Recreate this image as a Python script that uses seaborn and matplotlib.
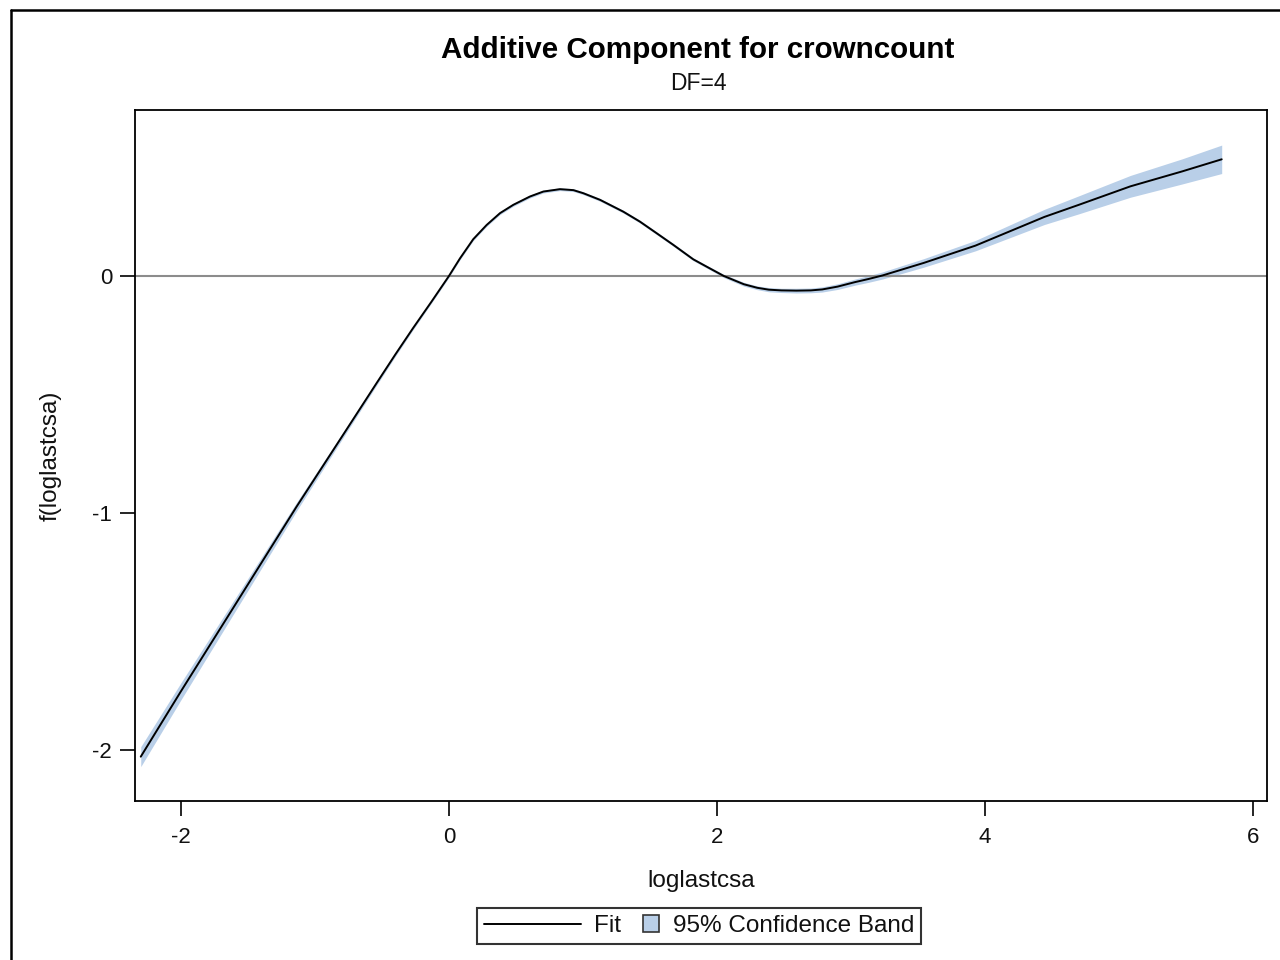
import numpy as np
import pandas as pd
import matplotlib
matplotlib.use("Agg")
import matplotlib.pyplot as plt
from matplotlib.lines import Line2D
from matplotlib.patches import Rectangle
from matplotlib.legend_handler import HandlerBase
import seaborn as sns

# ---- data ----
loglastcsa = [-2.30, -2.00, -1.634, -1.137, -0.80, -0.54, -0.40, -0.268, -0.13, 0.0,
              0.032, 0.082, 0.181, 0.281, 0.381, 0.480, 0.604, 0.704, 0.828, 0.928,
              1.002, 1.127, 1.301, 1.425, 1.55, 1.674, 1.823, 1.923, 2.05, 2.20,
              2.30, 2.387, 2.48, 2.593, 2.70, 2.785, 2.90, 3.03, 3.13, 3.235,
              3.543, 3.929, 4.443, 4.70, 5.085, 5.471, 5.766]
fit = [-2.028, -1.752, -1.422, -0.973, -0.679, -0.452, -0.331, -0.220, -0.108, 0.0,
       0.029, 0.074, 0.155, 0.215, 0.265, 0.300, 0.335, 0.356, 0.366, 0.362,
       0.349, 0.321, 0.271, 0.229, 0.180, 0.131, 0.070, 0.039, 0.0, -0.035,
       -0.050, -0.058, -0.061, -0.062, -0.061, -0.057, -0.045, -0.026, -0.013, 0.002,
       0.055, 0.128, 0.249, 0.300, 0.378, 0.441, 0.492]
half_width = [0.042, 0.036, 0.028, 0.018, 0.012, 0.009, 0.008, 0.007, 0.006, 0.006,
              0.006, 0.006, 0.006, 0.006, 0.006, 0.006, 0.006, 0.006, 0.006, 0.006,
              0.006, 0.006, 0.006, 0.006, 0.006, 0.006, 0.006, 0.006, 0.007, 0.008,
              0.008, 0.009, 0.009, 0.010, 0.010, 0.011, 0.012, 0.013, 0.014, 0.015,
              0.018, 0.022, 0.032, 0.038, 0.046, 0.053, 0.060]
x_ticks = [-2, 0, 2, 4, 6]
y_ticks = [-2, -1, 0]

df = pd.DataFrame({"loglastcsa": loglastcsa, "fit": fit, "hw": half_width})
df["lower"] = df["fit"] - df["hw"]
df["upper"] = df["fit"] + df["hw"]

sns.set_theme(style="white")
plt.rcParams["font.family"] = ["Liberation Sans", "DejaVu Sans"]

BAND = "#b9cfe8"

fig = plt.figure(figsize=(12.8, 9.6), dpi=100)
ax = fig.add_axes([135/1280, 1-801/960, (1267-135)/1280, (801-110)/960])

ax.fill_between(df["loglastcsa"], df["lower"], df["upper"], color=BAND, linewidth=0, zorder=1)
ax.axhline(0, color="#8c8c8c", linewidth=1.5, zorder=2)
sns.lineplot(data=df, x="loglastcsa", y="fit", color="black", linewidth=1.4, ax=ax, zorder=3)

ax.set_xlim(-2.343, 6.104)
ax.set_ylim(-2.215, 0.700)
ax.set_xticks(x_ticks)
ax.set_yticks(y_ticks)
ax.set_xticklabels([str(v) for v in x_ticks])
ax.set_yticklabels([str(v) for v in y_ticks])
ax.tick_params(axis="both", which="major", direction="out", length=10.5, width=1.2,
               color="black", labelsize=16, labelcolor="#111111", pad=6, bottom=True, left=True)
ax.tick_params(axis="x", pad=8)
for sp in ax.spines.values():
    sp.set_visible(True)
    sp.set_color("black")
    sp.set_linewidth(1.3)

ax.set_xlabel("loglastcsa", fontsize=17.5, color="#111111", labelpad=16)
ax.set_ylabel("f(loglastcsa)", fontsize=17.5, color="#111111", labelpad=22)

fig.text(698/1280, 1-50/960, "Additive Component for crowncount", ha="center", va="center",
         fontsize=21.3, fontweight="bold", color="black")
fig.text(698/1280, 1-83/960, "DF=4", ha="center", va="center", fontsize=16.5, color="#111111")


class SquareHandler(HandlerBase):
    def legend_artist(self, legend, orig_handle, fontsize, handlebox):
        s = 0.66 * fontsize
        handlebox.width = s
        x0, y0 = handlebox.xdescent, handlebox.ydescent
        rect = Rectangle((-x0, -y0 + (handlebox.height - s) / 2), s, s,
                         facecolor=BAND, edgecolor="#333333", linewidth=1.2,
                         transform=handlebox.get_transform())
        handlebox.add_artist(rect)
        return rect


fit_handle = Line2D([], [], color="black", linewidth=1.4)
band_handle = Rectangle((0, 0), 1, 1, facecolor=BAND)
leg = fig.legend([fit_handle, band_handle], ["Fit", "95% Confidence Band"],
                 handler_map={Rectangle: SquareHandler()},
                 loc="center", bbox_to_anchor=(699/1280, 1-926/960), ncol=2,
                 fontsize=17.5, handlelength=4.0, handletextpad=0.55, columnspacing=0.9,
                 frameon=True, fancybox=False, shadow=False, borderpad=0.3,
                 borderaxespad=0)
leg.get_frame().set_edgecolor("black")
leg.get_frame().set_linewidth(1.5)
for t in leg.get_texts():
    t.set_color("#111111")

# figure border (left and top visible)
fig.add_artist(Line2D([11/1280, 11/1280], [0, 1-10/960], transform=fig.transFigure,
                      color="black", linewidth=1.8))
fig.add_artist(Line2D([11/1280, 1], [1-10/960, 1-10/960], transform=fig.transFigure,
                      color="black", linewidth=1.8))

fig.savefig("out.png", dpi=100, facecolor="white")
